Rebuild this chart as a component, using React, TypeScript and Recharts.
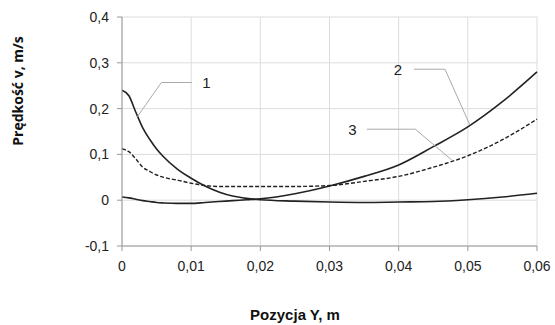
import React from "react";
import {
  LineChart,
  Line,
  XAxis,
  YAxis,
  CartesianGrid,
  ReferenceLine,
  ReferenceDot,
} from "recharts";

// position Y (m)
const positions = [
  0, 0.001, 0.002, 0.003, 0.004, 0.005, 0.006, 0.008, 0.01, 0.012, 0.014, 0.016,
  0.018, 0.02, 0.025, 0.03, 0.035, 0.04, 0.045, 0.05, 0.055, 0.06,
];
// curve 1 - decays from the wall
const curve1 = [
  0.24, 0.228, 0.192, 0.158, 0.133, 0.112, 0.095, 0.068, 0.048, 0.031, 0.018,
  0.009, 0.004, 0.001, -0.002, -0.004, -0.005, -0.004, -0.003, 0.001, 0.007,
  0.015,
];
// curve 2 - rising towards the right side
const curve2 = [
  0.007, 0.005, 0.002, -0.001, -0.003, -0.005, -0.006, -0.007, -0.007, -0.005,
  -0.003, -0.001, 0.001, 0.003, 0.014, 0.031, 0.052, 0.077, 0.117, 0.16, 0.215,
  0.28,
];
// curve 3 - dashed
const curve3 = [
  0.112, 0.106, 0.09, 0.072, 0.063, 0.055, 0.05, 0.044, 0.037, 0.032, 0.03,
  0.03, 0.03, 0.03, 0.03, 0.032, 0.041, 0.052, 0.072, 0.097, 0.132, 0.177,
];

const xTicks = [0, 0.01, 0.02, 0.03, 0.04, 0.05, 0.06];
const yTicks = [-0.1, 0, 0.1, 0.2, 0.3, 0.4];

// callouts: label position and leader line points (data coords)
const callouts = [
  { name: "1", text: [0.0122, 0.256], path: [[0.0101, 0.257], [0.0057, 0.257], [0.0022, 0.182]] },
  { name: "2", text: [0.0399, 0.284], path: [[0.0422, 0.286], [0.0467, 0.286], [0.0503, 0.164]] },
  { name: "3", text: [0.0333, 0.153], path: [[0.0354, 0.155], [0.0424, 0.155], [0.0477, 0.0875]] },
];

const data = positions.map((x, i) => ({
  x,
  c1: curve1[i],
  c2: curve2[i],
  c3: curve3[i],
}));

const fmt = (v: number) => {
  if (v === 0) return "0";
  return String(Number(v.toFixed(2))).replace(".", ",");
};

const tickStyle = { fill: "#222", fontSize: 14, fontFamily: "Liberation Sans, Arial, sans-serif" };

export default function App() {
  return (
    <div style={{ position: "absolute", left: 0, top: 0, background: "#fff" }}>
      <LineChart
        width={555}
        height={325}
        data={data}
        margin={{ top: 17, right: 18, bottom: 0, left: 0 }}
      >
        <CartesianGrid stroke="#dcdcdc" strokeWidth={1} />
        <XAxis
          dataKey="x"
          type="number"
          domain={[0, 0.06]}
          ticks={xTicks}
          tickFormatter={fmt}
          tick={tickStyle}
          axisLine={{ stroke: "#999" }}
          tickLine={{ stroke: "#999" }}
          tickSize={5}
          tickMargin={10}
          height={79}
          label={{
            content: () => (
              <text
                x={295}
                y={320}
                textAnchor="middle"
                fill="#111"
                fontSize={15}
                fontWeight={700}
                fontFamily="Liberation Sans, Arial, sans-serif"
              >
                Pozycja Y, m
              </text>
            ),
          }}
        />
        <YAxis
          type="number"
          domain={[-0.1, 0.4]}
          ticks={yTicks}
          tickFormatter={fmt}
          tick={tickStyle}
          axisLine={{ stroke: "#999" }}
          tickLine={{ stroke: "#999" }}
          tickSize={5}
          tickMargin={8}
          width={122}
          label={{
            content: () => (
              <text
                x={17}
                y={91}
                transform="rotate(-90, 17, 91)"
                textAnchor="middle"
                dominantBaseline="central"
                fill="#111"
                fontSize={14}
                fontWeight={700}
                fontFamily="Open Sans, sans-serif"
              >
                Prędkość v, m/s
              </text>
            ),
          }}
        />
        <Line type="monotone" dataKey="c1" stroke="#222" strokeWidth={1.6} dot={false} isAnimationActive={false} />
        <Line type="monotone" dataKey="c2" stroke="#222" strokeWidth={1.6} dot={false} isAnimationActive={false} />
        <Line
          type="monotone"
          dataKey="c3"
          stroke="#222"
          strokeWidth={1.4}
          strokeDasharray="4 2"
          dot={false}
          isAnimationActive={false}
        />
        {callouts.map((c) =>
          c.path.slice(1).map((p, i) => (
            <ReferenceLine
              key={c.name + i}
              segment={[
                { x: c.path[i][0], y: c.path[i][1] },
                { x: p[0], y: p[1] },
              ]}
              stroke="#aaa"
              strokeWidth={1}
              ifOverflow="visible"
            />
          ))
        )}
        {callouts.map((c) => (
          <ReferenceDot
            key={"t" + c.name}
            x={c.text[0]}
            y={c.text[1]}
            r={0}
            stroke="none"
            fill="none"
            ifOverflow="visible"
            label={{
              value: c.name,
              position: "center",
              fill: "#222",
              fontSize: 15,
              fontFamily: "Liberation Sans, Arial, sans-serif",
            }}
          />
        ))}
      </LineChart>
    </div>
  );
}
